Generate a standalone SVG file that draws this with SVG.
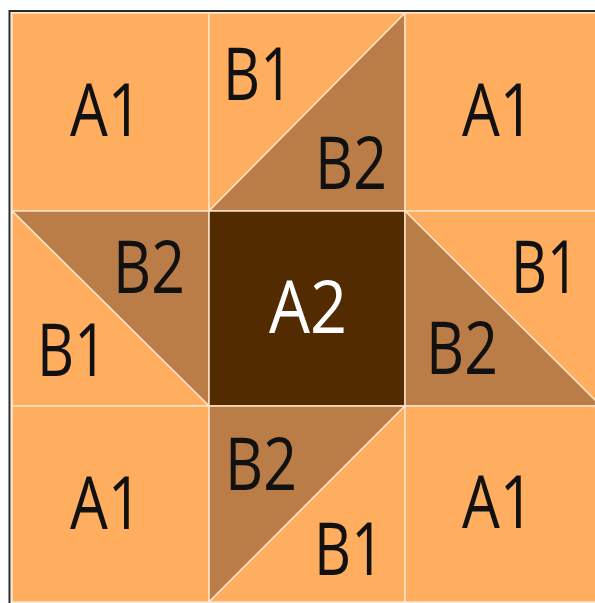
<svg xmlns="http://www.w3.org/2000/svg" width="595" height="603" viewBox="0 0 595 603">
<style>
.light{fill:#FFAD5E;stroke:#FFE3C6;stroke-width:1.5;stroke-linejoin:round}
.mid{fill:#BB7D47;stroke:#FFE3C6;stroke-width:1.5;stroke-linejoin:round}
.dark{fill:#532B00;stroke:#FFE3C6;stroke-width:1.5}
text{font-family:"Open Sans","Noto Sans",sans-serif;font-size:73px;text-anchor:middle;fill:#111}
text.w{fill:#FFFFFF}
</style>
<rect x="0" y="0" width="595" height="603" fill="#FFFFFF"/>
<rect x="9.5" y="11" width="700" height="700" fill="none" stroke="#2a2a2a" stroke-width="2"/>
<g id="a1-tl"><rect class="light" x="12" y="13" width="197" height="198"/><text x="106" y="136" textLength="72" lengthAdjust="spacingAndGlyphs">A1</text></g>
<g id="b-top">
<polygon class="light" points="209,13 405,13 209,211"/>
<polygon class="mid" points="405,13 405,211 209,211"/>
<text x="258" y="100" textLength="70" lengthAdjust="spacingAndGlyphs">B1</text>
<text x="351" y="189" textLength="72" lengthAdjust="spacingAndGlyphs">B2</text>
</g>
<g id="a1-tr"><rect class="light" x="405" y="13" width="200" height="198"/><text x="498" y="136" textLength="72" lengthAdjust="spacingAndGlyphs">A1</text></g>
<g id="b-left">
<polygon class="mid" points="12,211 209,211 209,406"/>
<polygon class="light" points="12,211 209,406 12,406"/>
<text x="149" y="293" textLength="72" lengthAdjust="spacingAndGlyphs">B2</text>
<text x="72" y="376" textLength="70" lengthAdjust="spacingAndGlyphs">B1</text>
</g>
<g id="a2"><rect class="dark" x="209" y="211" width="196" height="195"/><text class="w" x="308" y="333" textLength="78" lengthAdjust="spacingAndGlyphs">A2</text></g>
<g id="b-right">
<polygon class="light" points="405,211 605,211 605,410"/>
<polygon class="mid" points="405,211 605,410 605,406 405,406"/>
<text x="545" y="293" textLength="68" lengthAdjust="spacingAndGlyphs">B1</text>
<text x="462" y="374" textLength="72" lengthAdjust="spacingAndGlyphs">B2</text>
</g>
<g id="a1-bl"><rect class="light" x="12" y="406" width="197" height="196"/><text x="106" y="529" textLength="72" lengthAdjust="spacingAndGlyphs">A1</text></g>
<g id="b-bottom">
<polygon class="mid" points="209,406 405,406 209,602"/>
<polygon class="light" points="405,406 405,602 209,602"/>
<text x="261" y="490" textLength="72" lengthAdjust="spacingAndGlyphs">B2</text>
<text x="349" y="575" textLength="70" lengthAdjust="spacingAndGlyphs">B1</text>
</g>
<g id="a1-br"><rect class="light" x="405" y="406" width="200" height="196"/><text x="498" y="528" textLength="72" lengthAdjust="spacingAndGlyphs">A1</text></g>
</svg>
